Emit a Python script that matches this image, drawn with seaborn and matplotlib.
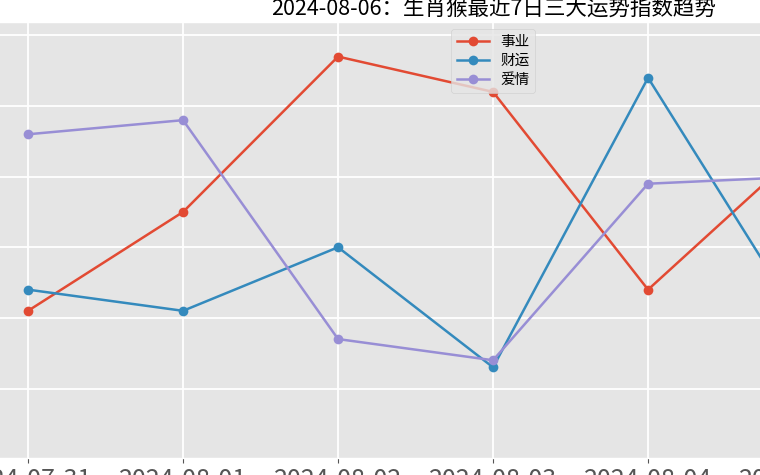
import pandas as pd
import matplotlib.pyplot as plt
import seaborn as sns

# 数据
dates = ['2024-07-31', '2024-08-01', '2024-08-02', '2024-08-03',
         '2024-08-04', '2024-08-05', '2024-08-06']
career = [61, 75, 97, 92, 64, 84, 99]
wealth = [64, 61, 70, 53, 94, 59, 43]
love = [86, 88, 57, 54, 79, 80, 70]
series_names = ['事业', '财运', '爱情']
colors = ['#E24A33', '#348ABD', '#988ED5']

plt.style.use('ggplot')
plt.rcParams['font.family'] = ['Noto Sans CJK SC', 'DejaVu Sans']

fig = plt.figure(figsize=(7.6, 4.75), dpi=100)
ax = fig.add_axes([-0.0243, 0.0364, 1.3461, 0.9173])

for name, vals, c in zip(series_names, [career, wealth, love], colors):
    df = pd.DataFrame({'date': dates, 'value': vals})
    sns.lineplot(data=df, x='date', y='value', ax=ax, color=c, label=name,
                 marker='o', markersize=7, markeredgewidth=0, linewidth=1.8)

ax.set_xlim(-0.3, 6.3)
ax.set_ylim(40.2, 101.9)
ax.set_yticks([50, 60, 70, 80, 90, 100])
ax.set_xlabel('')
ax.set_ylabel('')
ax.grid(True, color='white', linewidth=1.3)
ax.tick_params(axis='x', labelsize=18, pad=3)
ax.set_title('2024-08-06：生肖猴最近7日三大运势指数趋势', fontsize=15.5, pad=5)
ax.legend(loc='upper center', fontsize=10.5, handlelength=2.2, labelspacing=0.35)

fig.savefig('out.png', dpi=100)
